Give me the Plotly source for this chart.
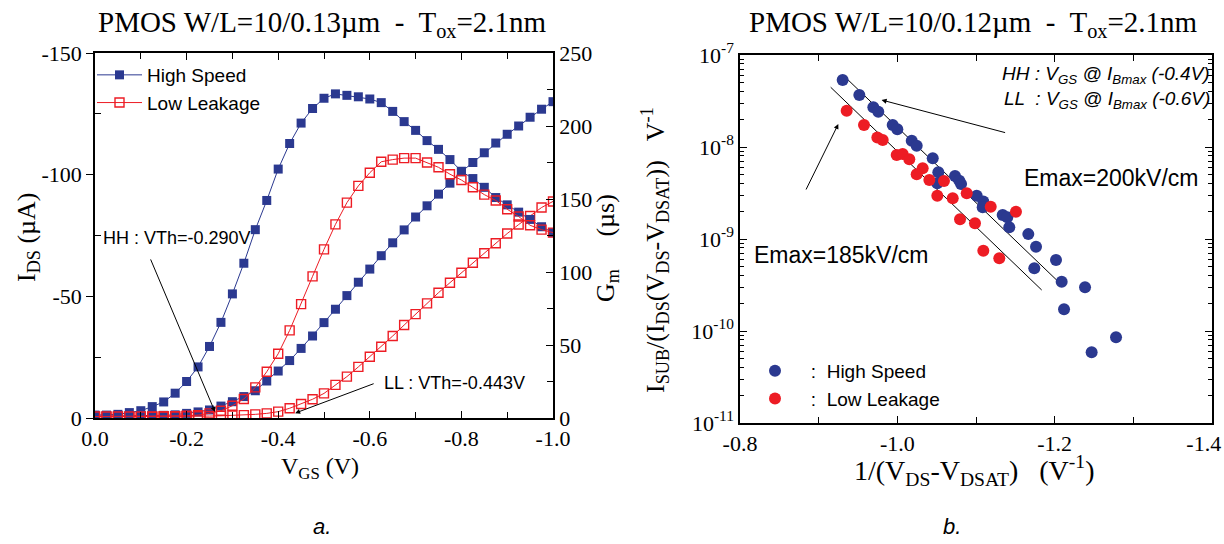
import plotly.graph_objects as go

# ---------------- Panel a data ----------------
vgs = [0.0, -0.025, -0.05, -0.075, -0.1, -0.125, -0.15, -0.175, -0.2, -0.225,
       -0.25, -0.275, -0.3, -0.325, -0.35, -0.375, -0.4, -0.425, -0.45, -0.475,
       -0.5, -0.525, -0.55, -0.575, -0.6, -0.625, -0.65, -0.675, -0.7, -0.725,
       -0.75, -0.775, -0.8, -0.825, -0.85, -0.875, -0.9, -0.925, -0.95, -0.975, -1.0]

hs_ids = [-0.8, -0.8, -0.9, -0.9, -1.0, -1.0, -1.1, -1.3, -1.9, -2.5,
          -3.3, -4.9, -6.7, -8.8, -11.2, -15.2, -19.3, -23.6, -28.6, -33.7,
          -39.2, -44.7, -50.3, -55.8, -61.2, -66.7, -72.0, -77.3, -82.6, -87.2,
          -92.0, -96.5, -101.2, -105.0, -109.0, -113.0, -116.6, -120.0, -123.6, -126.9, -130.0]
hs_gm = [2, 2, 2.5, 3.7, 5, 7.8, 11, 17, 25, 35,
         49, 65.5, 85, 106, 129, 149, 170.5, 188, 202, 212,
         219, 222, 221, 220, 218.5, 216, 210, 203, 197, 190,
         184, 177, 169, 164, 158, 151, 146, 141, 136, 131, 127]
ll_ids = [-0.5, -0.5, -0.5, -0.5, -0.5, -0.5, -0.6, -0.6, -0.7, -0.7,
          -0.8, -0.9, -1.0, -1.2, -1.5, -1.9, -2.6, -4.0, -5.75, -7.7,
          -10.1, -13.6, -17.0, -21.0, -25.2, -29.3, -33.7, -38.2, -42.7, -47.1,
          -51.5, -55.6, -59.7, -63.8, -67.7, -71.8, -75.8, -79.5, -83.0, -86.5, -89.0]
ll_gm = [1, 1, 1, 1, 1, 1, 1.2, 1.3, 1.5, 2,
         3.2, 5, 8.4, 13, 21, 31.7, 44, 60, 78, 97,
         115.5, 132.6, 147.5, 159, 168, 175.5, 177, 178, 178, 175,
         171.7, 167, 163, 158, 153, 149, 143, 138, 132, 129, 127]

xa_ticks = [0.0, -0.2, -0.4, -0.6, -0.8, -1.0]
xa_labels = ["0.0", "-0.2", "-0.4", "-0.6", "-0.8", "-1.0"]
xa_minor = [-0.1, -0.3, -0.5, -0.7, -0.9]
ya_ticks = [0, -50, -100, -150]
ya_labels = ["0", "-50", "-100", "-150"]
ya_minor = [-25, -75, -125]
y2a_ticks = [0, 50, 100, 150, 200, 250]
y2a_minor = [25, 75, 125, 175, 225]

# ---------------- Panel b data ----------------
hs_x = [-0.9305, -0.9517, -0.9695, -0.9758, -0.9941, -1.0, -1.0183, -1.0246, -1.045, -1.0521,
        -1.0508, -1.0733, -1.0788, -1.081, -1.1009, -1.1093, -1.1085, -1.1339, -1.1398, -1.1423,
        -1.1665, -1.1763, -1.2017, -1.1741, -1.2089, -1.2386, -1.2119, -1.278, -1.247]
hs_y = [5.35e-8, 3.67e-8, 2.70e-8, 2.42e-8, 1.73e-8, 1.56e-8, 1.17e-8, 1.03e-8, 7.53e-9, 5.31e-9,
        4.03e-9, 4.84e-9, 4.31e-9, 3.96e-9, 2.96e-9, 2.55e-9, 2.21e-9, 1.82e-9, 1.72e-9, 1.34e-9,
        1.13e-9, 8.26e-10, 5.92e-10, 4.8e-10, 3.43e-10, 2.99e-10, 1.72e-10, 8.53e-11, 5.86e-11]
ll_x = [-0.9356, -0.9576, -0.9746, -0.9814, -0.9992, -1.0068, -1.0152, -1.0322, -1.0246, -1.0407,
        -1.0593, -1.0508, -1.0704, -1.0882, -1.1187, -1.1508, -1.0797, -1.0987, -1.1093, -1.1296]
ll_y = [2.48e-8, 1.73e-8, 1.27e-8, 1.19e-8, 8.19e-9, 8.39e-9, 7.35e-9, 5.86e-9, 5.05e-9, 4.38e-9,
        4.27e-9, 2.96e-9, 2.77e-9, 3.14e-9, 2.24e-9, 1.98e-9, 1.64e-9, 1.48e-9, 7.46e-10, 6.16e-10]

fit_hs_x = [-0.9322, -1.2046]
fit_hs_y = [5.91e-8, 3.44e-10]
fit_ll_x = [-0.9153, -1.1835]
fit_ll_y = [4.46e-8, 2.79e-10]

xb_ticks = [-0.8, -1.0, -1.2, -1.4]
xb_labels = ["-0.8", "-1.0", "-1.2", "-1.4\u00a0\u00a0\u00a0"]
xb_minor = [-0.9, -1.1, -1.3]
yb_ticks = [1e-11, 1e-10, 1e-9, 1e-8, 1e-7]
yb_labels = ["10<sup>-11</sup>", "10<sup>-10</sup>", "10<sup>-9</sup>", "10<sup>-8</sup>", "10<sup>-7</sup>"]
yb_minor = [m * 10.0 ** e for e in range(-11, -7) for m in range(2, 10)]

BLUE = "#2B3990"
RED = "#ED1C24"
SERIF = "Liberation Serif"
SANS = "Liberation Sans"
W, H = 1224, 544

fig = go.Figure()

fig.add_trace(go.Scatter(x=vgs, y=hs_gm, mode="lines+markers", name="High Speed",
                         line=dict(color=BLUE, width=1),
                         marker=dict(symbol="square", size=9, color=BLUE),
                         xaxis="x", yaxis="y2", legend="legend"))
fig.add_trace(go.Scatter(x=vgs, y=ll_gm, mode="lines+markers", name="Low Leakage",
                         line=dict(color=RED, width=1),
                         marker=dict(symbol="square-open", size=9, color=RED, line=dict(width=1.4)),
                         xaxis="x", yaxis="y2", legend="legend"))
fig.add_trace(go.Scatter(x=vgs, y=hs_ids, mode="lines+markers", showlegend=False,
                         line=dict(color=BLUE, width=1),
                         marker=dict(symbol="square", size=9, color=BLUE),
                         xaxis="x", yaxis="y"))
fig.add_trace(go.Scatter(x=vgs, y=ll_ids, mode="lines+markers", showlegend=False,
                         line=dict(color=RED, width=1),
                         marker=dict(symbol="square-open", size=9, color=RED, line=dict(width=1.4)),
                         xaxis="x", yaxis="y"))

# panel b
fig.add_trace(go.Scatter(x=fit_hs_x, y=fit_hs_y, mode="lines", showlegend=False,
                         line=dict(color="black", width=1), xaxis="x2", yaxis="y3"))
fig.add_trace(go.Scatter(x=fit_ll_x, y=fit_ll_y, mode="lines", showlegend=False,
                         line=dict(color="black", width=1), xaxis="x2", yaxis="y3"))
fig.add_trace(go.Scatter(x=hs_x, y=hs_y, mode="markers", name="   :  High Speed",
                         marker=dict(symbol="circle", size=12, color=BLUE),
                         xaxis="x2", yaxis="y3", legend="legend2"))
fig.add_trace(go.Scatter(x=ll_x, y=ll_y, mode="markers", name="   :  Low Leakage",
                         marker=dict(symbol="circle", size=12, color=RED),
                         xaxis="x2", yaxis="y3", legend="legend2"))

tickfont = dict(family=SERIF, size=22, color="black")
common = dict(showline=True, linecolor="black", linewidth=1.5, showgrid=False, zeroline=False,
              tickfont=tickfont, ticklen=7, tickcolor="black", tickwidth=1.2,
              ticklabeloverflow="allow")

ya_dom = [1 - 418 / H, 1 - 53 / H]
yb_dom = [1 - 423 / H, 1 - 55 / H]

fig.update_layout(
    width=W, height=H,
    margin=dict(l=0, r=0, t=0, b=0, autoexpand=False),
    paper_bgcolor="white", plot_bgcolor="white",
    xaxis=dict(domain=[95 / W, 553 / W], range=[0, -1.0], anchor="y",
               tickmode="array", tickvals=xa_ticks, ticktext=xa_labels, ticks="inside",
               mirror="ticks",
               minor=dict(tickvals=xa_minor, ticks="inside", ticklen=6, tickcolor="black"),
               **common),
    yaxis=dict(domain=ya_dom, range=[0, -150], anchor="x",
               tickmode="array", tickvals=ya_ticks, ticktext=ya_labels, ticks="outside",
               minor=dict(tickvals=ya_minor, ticks="inside", ticklen=6, tickcolor="black"),
               **common),
    yaxis2=dict(domain=ya_dom, range=[0, 250], anchor="x", overlaying="y", side="right",
                tickmode="array", tickvals=y2a_ticks, ticks="inside",
                minor=dict(tickvals=y2a_minor, ticks="inside", ticklen=6, tickcolor="black"),
                **common),
    xaxis2=dict(domain=[740 / W, 1212 / W], range=[-0.8, -1.4], anchor="y3",
                tickmode="array", tickvals=xb_ticks, ticktext=xb_labels, ticks="inside",
                mirror="ticks",
                minor=dict(tickvals=xb_minor, ticks="inside", ticklen=6, tickcolor="black"),
                **common),
    yaxis3=dict(domain=yb_dom, type="log", range=[-11, -7], anchor="x2",
                tickmode="array", tickvals=yb_ticks, ticktext=yb_labels, ticks="inside",
                mirror="ticks",
                minor=dict(tickvals=yb_minor, ticks="inside", ticklen=4, tickcolor="black"),
                **common),
    legend=dict(x=92 / W, y=1 - 56 / H, xanchor="left", yanchor="top",
                bgcolor="rgba(0,0,0,0)", font=dict(family=SANS, size=19, color="black"),
                itemwidth=45, tracegroupgap=0),
    legend2=dict(x=755 / W, y=1 - 352 / H, xanchor="left", yanchor="top",
                 bgcolor="rgba(0,0,0,0)", font=dict(family=SANS, size=19, color="black"),
                 itemwidth=30, tracegroupgap=0),
)


def px(x, y):
    return x / W, 1 - y / H


annots = []


def add_text(text, x, y, size, family=SERIF, angle=0, xanchor="center"):
    xx, yy = px(x, y)
    annots.append(dict(text=text, x=xx, y=yy, xref="paper", yref="paper", showarrow=False,
                       xanchor=xanchor, yanchor="middle", textangle=angle,
                       font=dict(family=family, size=size, color="black")))


add_text("PMOS W/L=10/0.13µm  -  T<sub>ox</sub>=2.1nm", 322, 24, 29)
add_text("PMOS W/L=10/0.12µm  -  T<sub>ox</sub>=2.1nm", 974, 24, 29)
add_text("I<sub>DS</sub> (µA)", 28, 237, 26, angle=-90)
add_text("G<sub>m</sub>     (µs)", 607, 248, 26, angle=-90)
add_text("V<sub>GS</sub> (V)", 320, 468, 24)
add_text("I<sub>SUB</sub>/(I<sub>DS</sub>(V<sub>DS</sub>-V<sub>DSAT</sub>))   V<sup>-1</sup>",
         655, 250, 26, angle=-90)
add_text("1/(V<sub>DS</sub>-V<sub>DSAT</sub>)   (V<sup>-1</sup>)", 974, 470, 28)
add_text("HH : VTh=-0.290V", 177, 238, 18, family=SANS)
add_text("LL : VTh=-0.443V", 454, 383, 18, family=SANS)
add_text("Emax=200kV/cm", 1111, 178, 23, family=SANS)
add_text("Emax=185kV/cm", 841, 255, 23, family=SANS)
add_text("<i>HH : V<sub>GS</sub> @ I<sub>Bmax</sub> (-0.4V)</i>", 1212, 75, 19, family=SANS, xanchor="right")
add_text("<i>LL  : V<sub>GS</sub> @ I<sub>Bmax</sub> (-0.6V)</i>", 1212, 100, 19, family=SANS, xanchor="right")
add_text("<i>a.</i>", 322, 526, 22, family=SANS)
add_text("<i>b.</i>", 952, 526, 22, family=SANS)

# arrows (heads in data coordinates, tails as pixel offsets)
arrow = dict(showarrow=True, arrowhead=2, arrowsize=1, arrowwidth=1, arrowcolor="black", text="")
annots.append(dict(x=-0.262, y=-2.5, xref="x", yref="y", ax=-65, ay=-154, **arrow))
annots.append(dict(x=-0.437, y=-2.0, xref="x", yref="y", ax=80, ay=-30, **arrow))
annots.append(dict(x=-0.980, y=-7.489, xref="x2", yref="y3", ax=125, ay=33, **arrow))
annots.append(dict(x=-0.925, y=-7.75, xref="x2", yref="y3", ax=-33, ay=67, **arrow))

fig.update_layout(annotations=annots)
fig.write_html("out.html", config={"displayModeBar": False},
               post_script="document.body.style.margin='0px';")
